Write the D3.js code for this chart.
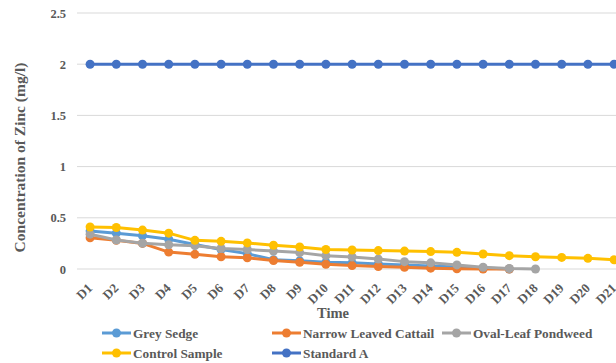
<!DOCTYPE html>
<html>
<head>
<meta charset="utf-8">
<script src="https://cdn.jsdelivr.net/npm/d3@7"></script>
<style>
  html, body { margin: 0; padding: 0; background: #fff; overflow: hidden; }
  svg { display: block; }
  svg text { font-family: "Liberation Serif", "Times New Roman", "DejaVu Serif", serif; }
</style>
</head>
<body>
<svg id="chart" width="616" height="363"></svg>
<script>
// Sampling days
const days = ["D1","D2","D3","D4","D5","D6","D7","D8","D9","D10","D11",
              "D12","D13","D14","D15","D16","D17","D18","D19","D20","D21"];

// Zinc concentration (mg/l) per series; null = no reading
const greySedge = [0.37, 0.35, 0.325, 0.29, 0.24, 0.19, 0.15, 0.09, 0.08, 0.065, 0.06,
                   0.05, 0.04, 0.03, 0.02, 0.01, 0.0, null, null, null, null];
const narrowLeavedCattail = [0.305, 0.28, 0.25, 0.165, 0.143, 0.12, 0.11, 0.082, 0.066, 0.046, 0.033,
                             0.024, 0.017, 0.008, 0.002, 0.0, 0.0, null, null, null, null];
const ovalLeafPondweed = [0.34, 0.283, 0.252, 0.237, 0.228, 0.2, 0.19, 0.175, 0.16, 0.13, 0.118,
                          0.097, 0.072, 0.06, 0.04, 0.017, 0.005, 0.0, null, null, null];
const controlSample = [0.41, 0.405, 0.38, 0.35, 0.28, 0.27, 0.255, 0.232, 0.215, 0.19, 0.185,
                       0.18, 0.175, 0.17, 0.163, 0.147, 0.13, 0.12, 0.113, 0.104, 0.09];
const standardA = [2, 2, 2, 2, 2, 2, 2, 2, 2, 2, 2, 2, 2, 2, 2, 2, 2, 2, 2, 2, 2];

const yTicks = [0, 0.5, 1, 1.5, 2, 2.5];
const yTickLabels = ["0", "0.5", "1", "1.5", "2", "2.5"];

const seriesNames = ["Grey Sedge", "Narrow Leaved Cattail", "Oval-Leaf Pondweed", "Control Sample", "Standard A"];
const seriesColors = ["#5B9BD5", "#ED7D31", "#A5A5A5", "#FFC000", "#4472C4"];
const seriesValues = [greySedge, narrowLeavedCattail, ovalLeafPondweed, controlSample, standardA];

const svg = d3.select("#chart");
const textColor = "#595959";
const serif = '"Liberation Serif", "Times New Roman", serif';

// Plot area (extends past the right edge of the window)
const plotLeft = 77, plotTop = 13, plotBottom = 269;
const step = 26.2;
const plotRight = plotLeft + step * days.length;

const x = d3.scaleBand().domain(days).range([plotLeft, plotRight]).paddingInner(0).paddingOuter(0);
const y = d3.scaleLinear().domain([0, 2.5]).range([plotBottom, plotTop]);
const cx = d => x(d) + x.bandwidth() / 2;

// Horizontal gridlines
svg.append("g")
  .selectAll("line")
  .data(yTicks)
  .join("line")
  .attr("x1", plotLeft).attr("x2", plotRight)
  .attr("y1", d => y(d)).attr("y2", d => y(d))
  .attr("stroke", "#D9D9D9").attr("stroke-width", 1);

// Y axis labels
const yAxis = d3.axisLeft(y).tickValues(yTicks)
  .tickFormat((d, i) => yTickLabels[i]).tickSize(0).tickPadding(11);
const yg = svg.append("g").attr("transform", `translate(${plotLeft},0)`).call(yAxis);
yg.attr("font-family", null);
yg.select(".domain").remove();
yg.selectAll("text")
  .style("font-family", serif)
  .attr("font-size", 12.5).attr("font-weight", "bold").attr("fill", textColor);

// X axis labels, rotated
const xAxis = d3.axisBottom(x).tickSize(0).tickPadding(0);
const xg = svg.append("g").attr("transform", `translate(0,${plotBottom})`).call(xAxis);
xg.attr("font-family", null);
xg.select(".domain").remove();
xg.selectAll("text")
  .style("font-family", serif)
  .attr("font-size", 13).attr("font-weight", "bold").attr("fill", textColor)
  .attr("text-anchor", "end")
  .attr("dy", "0")
  .attr("y", 0)
  .attr("transform", "translate(3,20) rotate(-45)");

// Series lines and markers
const line = d3.line()
  .defined(d => d.v !== null)
  .x(d => cx(d.day))
  .y(d => y(d.v));

seriesValues.forEach((vals, i) => {
  const pts = days.map((day, j) => ({ day, v: vals[j] }));
  const g = svg.append("g");
  g.append("path")
    .datum(pts)
    .attr("d", line)
    .attr("fill", "none")
    .attr("stroke", seriesColors[i])
    .attr("stroke-width", 3)
    .attr("stroke-linejoin", "round");
  g.selectAll("circle")
    .data(pts.filter(p => p.v !== null))
    .join("circle")
    .attr("cx", p => cx(p.day))
    .attr("cy", p => y(p.v))
    .attr("r", 4.5)
    .attr("fill", seriesColors[i]);
});

// Axis titles
svg.append("text")
  .attr("transform", "translate(25,157.5) rotate(-90)")
  .attr("text-anchor", "middle")
  .style("font-family", serif)
  .attr("font-size", 15.5).attr("font-weight", "bold").attr("fill", textColor)
  .text("Concentration of Zinc (mg/l)");

svg.append("text")
  .attr("x", 333).attr("y", 318)
  .attr("text-anchor", "middle")
  .style("font-family", serif)
  .attr("font-size", 14.5).attr("font-weight", "bold").attr("fill", textColor)
  .text("Time");

// Legend
const legendPos = [[102, 333], [272, 333], [442, 333], [102, 353], [272, 353]];
const lg = svg.append("g");
seriesNames.forEach((name, i) => {
  const [lx, ly] = legendPos[i];
  const item = lg.append("g").attr("transform", `translate(${lx},${ly})`);
  item.append("line")
    .attr("x1", 0).attr("x2", 29).attr("y1", 0).attr("y2", 0)
    .attr("stroke", seriesColors[i]).attr("stroke-width", 3);
  item.append("circle").attr("cx", 14.5).attr("cy", 0).attr("r", 4.5).attr("fill", seriesColors[i]);
  item.append("text")
    .attr("x", 31).attr("y", 4.5)
    .style("font-family", serif)
    .attr("font-size", 13.3).attr("font-weight", "bold").attr("fill", textColor)
    .text(name);
});
</script>
</body>
</html>
